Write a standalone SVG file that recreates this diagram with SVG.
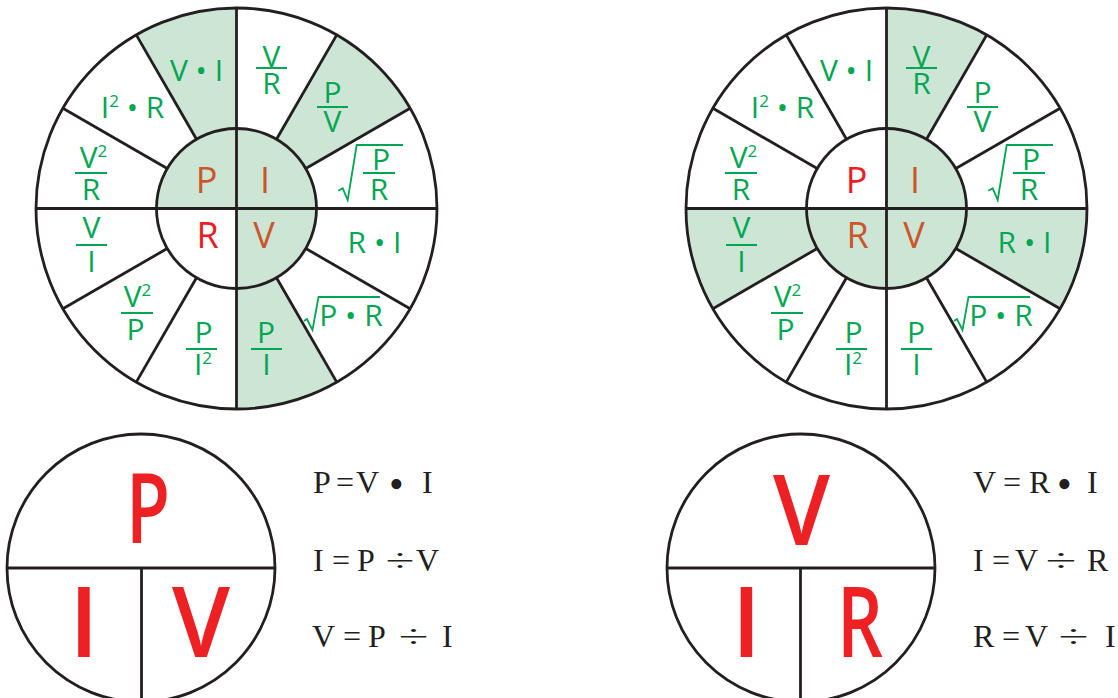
<svg xmlns="http://www.w3.org/2000/svg" width="1118" height="698" viewBox="0 0 1118 698">
<style>
.ln{stroke:#231f20;stroke-width:2.8;fill:none}
.sh{fill:#cde5d5}
.wh{fill:#ffffff}
.t{font-family:'Open Sans',sans-serif;fill:#00a651;font-size:30px;text-anchor:middle}
.bar{stroke:#00a651;stroke-width:2}
.rad{stroke:#00a651;stroke-width:1.8;fill:none;stroke-linejoin:miter}
.in{font-size:36px}
.or{fill:#c9572b}
.rd{fill:#ed1c24}
.sup{font-size:17px}
.eq{font-family:'Liberation Serif',serif;font-size:32px;fill:#231f20}
.big{font-family:'Open Sans',sans-serif;font-weight:600;font-size:98px;fill:#ed2024;text-anchor:middle}
</style>
<rect width="1118" height="698" fill="#ffffff"/>

<!-- Left wheel: P I V -->
<g id="wheel-piv" transform="translate(236.5,208.5)">
  <circle r="200.5" class="wh"/>
  <path class="sh" d="M0,-200.5 A200.5,200.5 0 0 0 -100.25,-173.63 L-40,-69.28 A80,80 0 0 1 0,-80 Z"/>
  <path class="sh" d="M100.25,-173.63 A200.5,200.5 0 0 1 173.63,-100.25 L69.28,-40 A80,80 0 0 0 40,-69.28 Z"/>
  <path class="sh" d="M0,200.5 A200.5,200.5 0 0 0 100.25,173.63 L40,69.28 A80,80 0 0 1 0,80 Z"/>
  <circle r="80" class="sh"/>
  <path class="wh" d="M0,0 L-80,0 A80,80 0 0 0 0,80 Z"/>
  <g class="ln">
    <line x1="69.28" y1="-40" x2="173.63" y2="-100.25"/>
    <line x1="40" y1="-69.28" x2="100.25" y2="-173.63"/>
    <line x1="-40" y1="-69.28" x2="-100.25" y2="-173.63"/>
    <line x1="-69.28" y1="-40" x2="-173.63" y2="-100.25"/>
    <line x1="-69.28" y1="40" x2="-173.63" y2="100.25"/>
    <line x1="-40" y1="69.28" x2="-100.25" y2="173.63"/>
    <line x1="40" y1="69.28" x2="100.25" y2="173.63"/>
    <line x1="69.28" y1="40" x2="173.63" y2="100.25"/>
    <line x1="0" y1="-200.5" x2="0" y2="200.5"/>
    <line x1="-200.5" y1="0" x2="200.5" y2="0"/>
    <circle r="80"/>
    <circle r="200.5"/>
  </g>
  <g class="t">
    <text x="-40" y="-127.5">V • I</text>
    <text x="35" y="-142">V</text><line class="bar" x1="19.5" y1="-140.5" x2="50.5" y2="-140.5"/><text x="35" y="-114.5">R</text>
    <text x="96" y="-105.5">P</text><line class="bar" x1="80.5" y1="-101.5" x2="111.5" y2="-101.5"/><text x="96" y="-76.5">V</text>
    <text x="-104" y="-90.5">I<tspan class="sup" dy="-11">2</tspan><tspan dy="11"> • R</tspan></text>
    <text x="-143" y="-40.5">V<tspan class="sup" dy="-11">2</tspan></text><line class="bar" x1="-161.5" y1="-35.5" x2="-129.5" y2="-35.5"/><text x="-145.5" y="-8.5">R</text>
    <polyline class="rad" points="101.8,-17.8 106.2,-20.2 111.2,-8.5 120.2,-63.5 166.5,-63.5"/>
    <text x="144.5" y="-38.5">P</text><line class="bar" x1="126.5" y1="-35.5" x2="158.5" y2="-35.5"/><text x="142.5" y="-8.5">R</text>
    <text x="-145" y="29.5">V</text><line class="bar" x1="-160.5" y1="36.5" x2="-129.5" y2="36.5"/><text x="-145" y="63.5">I</text>
    <text x="138" y="44.5">R • I</text>
    <text x="-99" y="98.5">V<tspan class="sup" dy="-11">2</tspan></text><line class="bar" x1="-115.5" y1="104.5" x2="-83.5" y2="104.5"/><text x="-101" y="131.5">P</text>
    <text x="-33" y="134.5">P</text><line class="bar" x1="-50.5" y1="140.5" x2="-19.5" y2="140.5"/><text x="-33.5" y="166.5">I<tspan class="sup" dy="-11">2</tspan></text>
    <text x="29.5" y="134.5">P</text><line class="bar" x1="14.5" y1="140.5" x2="45.5" y2="140.5"/><text x="30" y="166.5">I</text>
    <polyline class="rad" points="67.5,112.5 70.5,110.5 76,121.5 82,88.5 143.5,88.5"/>
    <text x="114.5" y="117.5">P • R</text>
  </g>
  <g class="t in">
    <text class="or" x="-30" y="-15.5">P</text>
    <text class="or" x="28.5" y="-15.5">I</text>
    <text class="rd" x="-29" y="39.5">R</text>
    <text class="or" x="27.5" y="39.5">V</text>
  </g>
</g>

<!-- Right wheel: V I R -->
<g id="wheel-vir" transform="translate(886.5,208.5)">
  <circle r="200.5" class="wh"/>
  <path class="sh" d="M0,-200.5 A200.5,200.5 0 0 1 100.25,-173.63 L40,-69.28 A80,80 0 0 0 0,-80 Z"/>
  <path class="sh" d="M200.5,0 A200.5,200.5 0 0 1 173.63,100.25 L69.28,40 A80,80 0 0 0 80,0 Z"/>
  <path class="sh" d="M-200.5,0 A200.5,200.5 0 0 0 -173.63,100.25 L-69.28,40 A80,80 0 0 1 -80,0 Z"/>
  <circle r="80" class="sh"/>
  <path class="wh" d="M0,0 L0,-80 A80,80 0 0 0 -80,0 Z"/>
  <g class="ln">
    <line x1="69.28" y1="-40" x2="173.63" y2="-100.25"/>
    <line x1="40" y1="-69.28" x2="100.25" y2="-173.63"/>
    <line x1="-40" y1="-69.28" x2="-100.25" y2="-173.63"/>
    <line x1="-69.28" y1="-40" x2="-173.63" y2="-100.25"/>
    <line x1="-69.28" y1="40" x2="-173.63" y2="100.25"/>
    <line x1="-40" y1="69.28" x2="-100.25" y2="173.63"/>
    <line x1="40" y1="69.28" x2="100.25" y2="173.63"/>
    <line x1="69.28" y1="40" x2="173.63" y2="100.25"/>
    <line x1="0" y1="-200.5" x2="0" y2="200.5"/>
    <line x1="-200.5" y1="0" x2="200.5" y2="0"/>
    <circle r="80"/>
    <circle r="200.5"/>
  </g>
  <g class="t">
    <text x="-40" y="-127.5">V • I</text>
    <text x="35" y="-142">V</text><line class="bar" x1="19.5" y1="-140.5" x2="50.5" y2="-140.5"/><text x="35" y="-114.5">R</text>
    <text x="96" y="-105.5">P</text><line class="bar" x1="80.5" y1="-101.5" x2="111.5" y2="-101.5"/><text x="96" y="-76.5">V</text>
    <text x="-104" y="-90.5">I<tspan class="sup" dy="-11">2</tspan><tspan dy="11"> • R</tspan></text>
    <text x="-143" y="-40.5">V<tspan class="sup" dy="-11">2</tspan></text><line class="bar" x1="-161.5" y1="-35.5" x2="-129.5" y2="-35.5"/><text x="-145.5" y="-8.5">R</text>
    <polyline class="rad" points="101.8,-17.8 106.2,-20.2 111.2,-8.5 120.2,-63.5 166.5,-63.5"/>
    <text x="144.5" y="-38.5">P</text><line class="bar" x1="126.5" y1="-35.5" x2="158.5" y2="-35.5"/><text x="142.5" y="-8.5">R</text>
    <text x="-145" y="29.5">V</text><line class="bar" x1="-160.5" y1="36.5" x2="-129.5" y2="36.5"/><text x="-145" y="63.5">I</text>
    <text x="138" y="44.5">R • I</text>
    <text x="-99" y="98.5">V<tspan class="sup" dy="-11">2</tspan></text><line class="bar" x1="-115.5" y1="104.5" x2="-83.5" y2="104.5"/><text x="-101" y="131.5">P</text>
    <text x="-33" y="134.5">P</text><line class="bar" x1="-50.5" y1="140.5" x2="-19.5" y2="140.5"/><text x="-33.5" y="166.5">I<tspan class="sup" dy="-11">2</tspan></text>
    <text x="29.5" y="134.5">P</text><line class="bar" x1="14.5" y1="140.5" x2="45.5" y2="140.5"/><text x="30" y="166.5">I</text>
    <polyline class="rad" points="67.5,112.5 70.5,110.5 76,121.5 82,88.5 143.5,88.5"/>
    <text x="114.5" y="117.5">P • R</text>
  </g>
  <g class="t in">
    <text class="rd" x="-30" y="-15.5">P</text>
    <text class="or" x="28.5" y="-15.5">I</text>
    <text class="or" x="-29" y="39.5">R</text>
    <text class="or" x="27.5" y="39.5">V</text>
  </g>
</g>

<!-- Bottom left circle P I V -->
<g id="circle-piv">
  <circle cx="141" cy="568" r="134" class="ln" stroke-width="2.5"/>
  <line class="ln" stroke-width="2.5" x1="7" y1="568" x2="275" y2="568"/>
  <line class="ln" stroke-width="2.5" x1="141.5" y1="568" x2="141.5" y2="700"/>
  <text class="big" x="148" y="543" textLength="44" lengthAdjust="spacingAndGlyphs">P</text>
  <text class="big" x="84" y="657">I</text>
  <text class="big" x="201" y="657" textLength="58" lengthAdjust="spacingAndGlyphs">V</text>
</g>

<g id="eq-piv" class="eq">
  <text y="493"><tspan x="313">P</tspan><tspan x="336">=</tspan><tspan x="356">V</tspan><tspan x="389" y="498" font-size="42">•</tspan><tspan x="422" y="493">I</tspan></text>
  <text y="571"><tspan x="313">I</tspan><tspan x="332">=</tspan><tspan x="357">P</tspan><tspan x="416">V</tspan></text>
  <text x="385.5" y="571" textLength="29" lengthAdjust="spacingAndGlyphs">÷</text>
  <text y="647"><tspan x="312">V</tspan><tspan x="343">=</tspan><tspan x="368">P</tspan><tspan x="442">I</tspan></text>
  <text x="398.5" y="647" textLength="30" lengthAdjust="spacingAndGlyphs">÷</text>
</g>

<!-- Bottom right circle V I R -->
<g id="circle-vir">
  <circle cx="801" cy="568" r="134" class="ln" stroke-width="2.5"/>
  <line class="ln" stroke-width="2.5" x1="667" y1="568" x2="935" y2="568"/>
  <line class="ln" stroke-width="2.5" x1="800.5" y1="568" x2="800.5" y2="700"/>
  <text class="big" x="801.5" y="545" textLength="57" lengthAdjust="spacingAndGlyphs">V</text>
  <text class="big" x="746.5" y="657">I</text>
  <text class="big" x="860" y="657" textLength="46" lengthAdjust="spacingAndGlyphs">R</text>
</g>

<g id="eq-vir" class="eq">
  <text y="493"><tspan x="973">V</tspan><tspan x="1003">=</tspan><tspan x="1029">R</tspan><tspan x="1057" y="498" font-size="42">•</tspan><tspan x="1087" y="493">I</tspan></text>
  <text y="571"><tspan x="973">I</tspan><tspan x="992">=</tspan><tspan x="1015">V</tspan><tspan x="1087">R</tspan></text>
  <text x="1045.5" y="571" textLength="31" lengthAdjust="spacingAndGlyphs">÷</text>
  <text y="647"><tspan x="973">R</tspan><tspan x="1002">=</tspan><tspan x="1025">V</tspan><tspan x="1105">I</tspan></text>
  <text x="1058.5" y="647" textLength="30" lengthAdjust="spacingAndGlyphs">÷</text>
</g>
</svg>
